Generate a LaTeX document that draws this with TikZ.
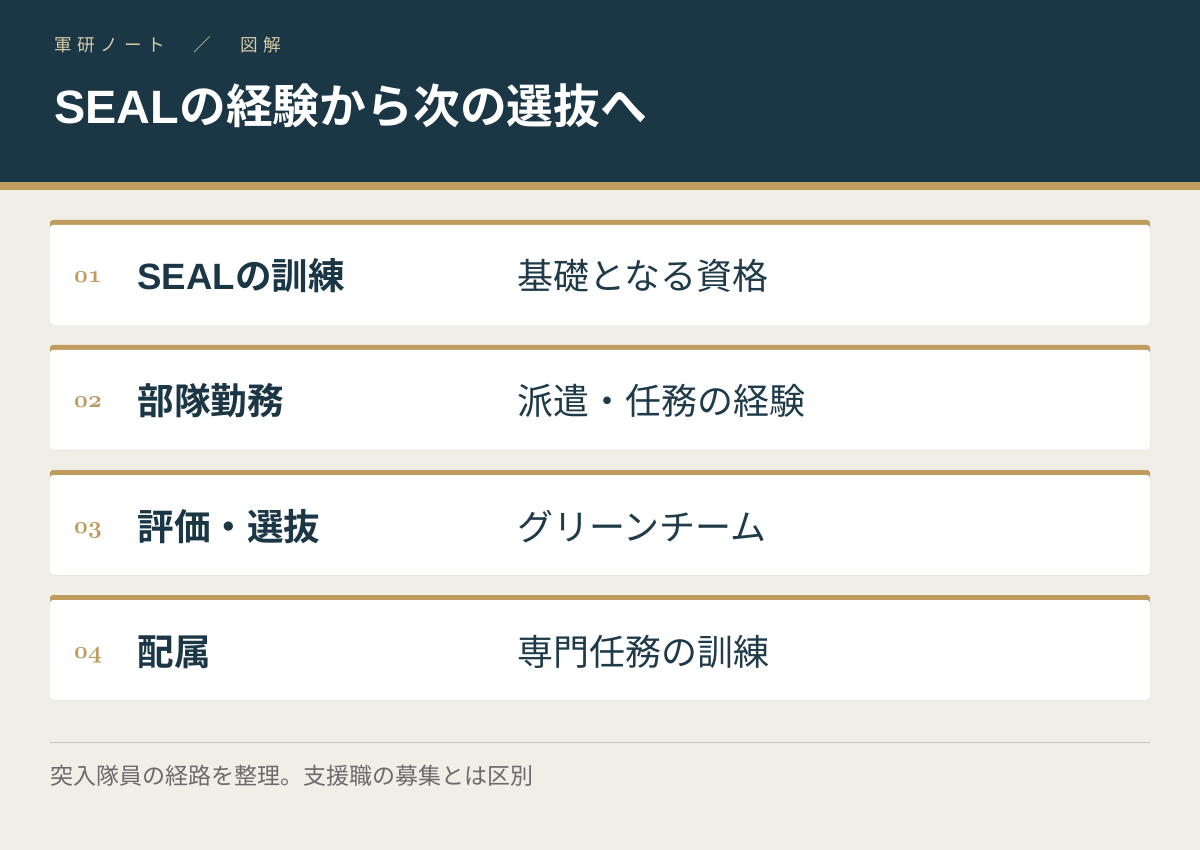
\documentclass[tikz,border=0pt]{standalone}
\usepackage{fontspec}
\setmainfont{Noto Sans CJK JP}[BoldFont={Noto Sans CJK JP Bold}]
\newfontfamily\latinsans{Liberation Sans}
\definecolor{navy}{HTML}{1B3745}
\definecolor{gold}{HTML}{BF9B5E}
\definecolor{paper}{HTML}{F1EEE7}
\definecolor{kicker}{HTML}{D6CBA8}
\definecolor{inktext}{HTML}{1F3B49}
\definecolor{greytext}{HTML}{6B6B6B}
\definecolor{rulegrey}{HTML}{C9C6C0}
% old style figures from the classic math italic
\newcommand\osnum[1]{{\fontsize{13pt}{15pt}\usefont{OML}{cmm}{b}{it}#1}}
\newcommand\seal{{\latinsans SEAL}}
\begin{document}
\begin{tikzpicture}[x=0.5pt,y=-0.5pt,
  every node/.style={inner sep=0pt},
  card/.style={fill=white,rounded corners=1.5pt},
  kickerlabel/.style={anchor=base west,text=kicker,font=\fontsize{8.8pt}{10pt}\selectfont\addfontfeature{LetterSpace=32}},
  headtitle/.style={anchor=base west,text=white,font=\fontsize{23.4pt}{26pt}\selectfont\bfseries},
  numlabel/.style={anchor=base,text=gold},
  steptitle/.style={anchor=base west,text=navy,font=\fontsize{18.3pt}{21pt}\selectfont\bfseries},
  stepdesc/.style={anchor=base west,text=inktext,font=\fontsize{18pt}{21pt}\selectfont},
  footnote/.style={anchor=base west,text=greytext,font=\fontsize{11.5pt}{13pt}\selectfont}]
\useasboundingbox (0,0) rectangle (1200,850);
\fill[paper] (0,0) rectangle (1200,850);
% header band
\fill[navy] (0,0) rectangle (1200,182);
\fill[gold] (0,182) rectangle (1200,190);
\node[kickerlabel] (kick) at (54,52) {軍研ノート　／　図解};
\node[headtitle] (head) at (54,124) {\seal の経験から次の選抜へ};
% steps
\foreach \i/\t/\d [count=\k from 0] in {01/\seal の訓練/基礎となる資格,02/部隊勤務/派遣・任務の経験,03/評価・選抜/グリーンチーム,04/配属/専門任務の訓練}{
  \pgfmathsetmacro{\yy}{220+125*\k}
  \fill[gold,rounded corners=1.5pt] (50,\yy) rectangle ++(1100,105);
  \fill[card] (50,\yy+5) rectangle ++(1100,100);
  \node[numlabel] (num\i) at (88,\yy+63) {\osnum{\i}};
  \node[steptitle] (title\i) at (137,\yy+70) {\t};
  \node[stepdesc] (desc\i) at (517,\yy+70) {\d};
}
% footer
\draw[rulegrey,line width=0.5pt] (50,742) -- (1150,742);
\node[footnote] (foot) at (50,784) {突入隊員の経路を整理。支援職の募集とは区別};
\end{tikzpicture}
\end{document}
